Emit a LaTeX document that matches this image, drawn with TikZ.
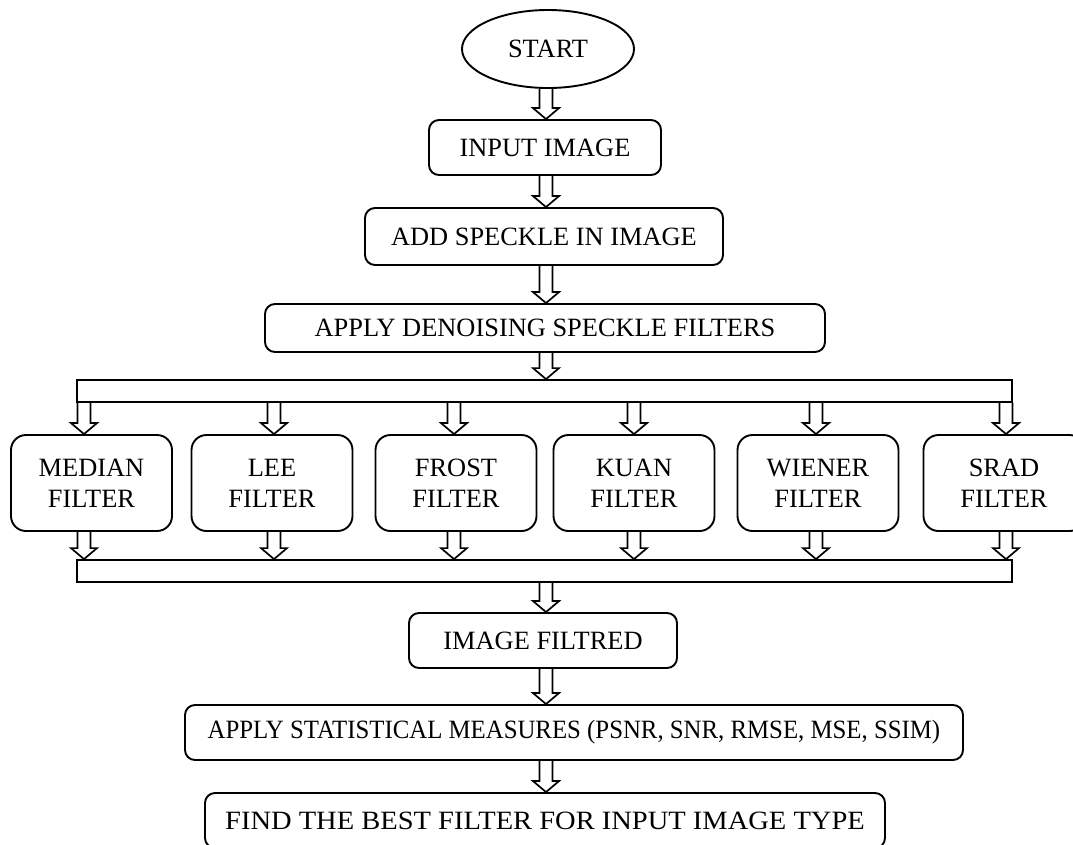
\documentclass[tikz,border=0pt]{standalone}
\usepackage{fontspec}
\setmainfont{Liberation Serif}
\usetikzlibrary{shapes.geometric,calc}
\tikzset{
  every node/.style={font=\fontsize{26.4}{31}\selectfont},
  rbox/.style={draw, line width=1.9pt, rounded corners=10pt, inner sep=0pt, align=center},
  fbox/.style={rbox, rounded corners=15pt, minimum width=161pt, minimum height=96pt},
  busbar/.style={draw, line width=1.8pt, inner sep=0pt, minimum height=22pt},
  hollow/.style={draw, line width=1.7pt, line join=miter},
  startshape/.style={draw, ellipse, line width=1.9pt, minimum width=172pt, minimum height=78pt, inner sep=0pt},
}
\newcommand\hdown[3]{\draw[hollow] let \p1=(#1), \p2=(#2), \p3=(#3) in
  (\x1-6.5pt,\y2) -- (\x1-6.5pt,\y3+11pt) -- (\x1-13pt,\y3+11pt) -- (\x1,\y3)
  -- (\x1+13pt,\y3+11pt) -- (\x1+6.5pt,\y3+11pt) -- (\x1+6.5pt,\y2);}
\begin{document}
\begin{tikzpicture}[x=1pt,y=1pt]
\useasboundingbox (0,0) rectangle (1073,-844);
\clip (0,0) rectangle (1073,-844);
\coordinate (col) at (546,0);
\node[startshape] (start) at (548,-49) {START};
\node[rbox, minimum width=232pt, minimum height=55pt] (input) at (545,-147.5) {INPUT IMAGE};
\node[rbox, minimum width=358pt, minimum height=57pt] (add) at (544,-236.5) {ADD SPECKLE IN IMAGE};
\node[rbox, minimum width=560pt, minimum height=48pt] (apply) at (545,-328) {APPLY DENOISING SPECKLE FILTERS};
\node[busbar, minimum width=935pt] (bus1) at (544.5,-391) {};
\node[fbox] (median) at (91.5,-483) {MEDIAN\\FILTER};
\node[fbox] (lee) at (272,-483) {LEE\\FILTER};
\node[fbox] (frost) at (456,-483) {FROST\\FILTER};
\node[fbox] (kuan) at (634,-483) {KUAN\\FILTER};
\node[fbox] (wiener) at (818,-483) {WIENER\\FILTER};
\node[fbox] (srad) at (1004,-483) {SRAD\\FILTER};
\node[busbar, minimum width=935pt] (bus2) at (544.5,-571) {};
\node[rbox, minimum width=268pt, minimum height=55pt] (filt) at (543,-640.5) {IMAGE FILTRED};
\node[rbox, minimum width=778pt, minimum height=55pt] (stat) at (574,-732.5) {\scalebox{0.94}[1]{APPLY STATISTICAL MEASURES (PSNR, SNR, RMSE, MSE, SSIM)}};
\node[rbox, minimum width=680pt, minimum height=55pt] (best) at (545,-820.5) {\scalebox{1.08}[1]{FIND THE BEST FILTER FOR INPUT IMAGE TYPE}};
\hdown{col}{start.south}{input.north}
\hdown{col}{input.south}{add.north}
\hdown{col}{add.south}{apply.north}
\hdown{col}{apply.south}{bus1.north}
\foreach \f/\dx in {median/-7.5,lee/2,frost/-2,kuan/0,wiener/-2,srad/2}{
  \hdown{$(\f)+(\dx,0)$}{bus1.south}{\f.north}
  \hdown{$(\f)+(\dx,0)$}{\f.south}{bus2.north}
}
\hdown{col}{bus2.south}{filt.north}
\hdown{col}{filt.south}{stat.north}
\hdown{col}{stat.south}{best.north}
\end{tikzpicture}
\end{document}
